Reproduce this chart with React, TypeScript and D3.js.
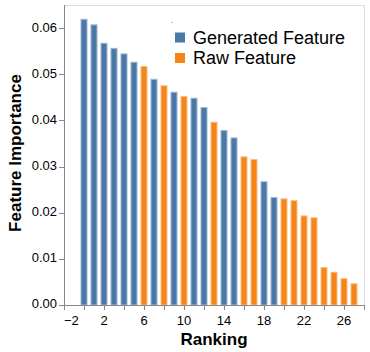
import React from "react";
import * as d3 from "d3";

const rankings = [0, 1, 2, 3, 4, 5, 6, 7, 8, 9, 10, 11, 12, 13, 14, 15, 16, 17, 18, 19, 20, 21, 22, 23, 24, 25, 26, 27];
const importances = [
  0.0619, 0.0607, 0.0567, 0.0556, 0.0544, 0.0526, 0.0517, 0.0489, 0.0475, 0.0461,
  0.0452, 0.0448, 0.0428, 0.0396, 0.0378, 0.0362, 0.0321, 0.0315, 0.0267, 0.0233,
  0.0230, 0.0226, 0.0193, 0.0189, 0.0081, 0.0071, 0.0057, 0.0046,
];
const featureTypes = [
  "Generated Feature", "Generated Feature", "Generated Feature", "Generated Feature", "Generated Feature",
  "Generated Feature", "Raw Feature", "Generated Feature", "Raw Feature", "Generated Feature",
  "Raw Feature", "Generated Feature", "Generated Feature", "Raw Feature", "Generated Feature",
  "Generated Feature", "Raw Feature", "Raw Feature", "Generated Feature", "Generated Feature",
  "Raw Feature", "Raw Feature", "Raw Feature", "Raw Feature", "Raw Feature",
  "Raw Feature", "Raw Feature", "Raw Feature",
];
const legendLabels = ["Generated Feature", "Raw Feature"];
const legendColors = ["#4c78a8", "#f58518"];
const xTicks = [-2, 0, 2, 4, 6, 8, 10, 12, 14, 16, 18, 20, 22, 24, 26, 28];
const xLabelTicks = [-2, 2, 6, 10, 14, 18, 22, 26];
const yTicks = [0, 0.01, 0.02, 0.03, 0.04, 0.05, 0.06];

const W = 370;
const H = 352;
const left = 64;
const top = 5;
const pw = 300;
const ph = 300;
const font = "'Liberation Sans', Arial, sans-serif";

export default function App() {
  const x = d3.scaleLinear().domain([-2, 28]).range([left, left + pw]);
  const y = d3.scaleLinear().domain([0, 0.065]).range([top + ph, top]);
  const color = d3.scaleOrdinal<string, string>().domain(legendLabels).range(legendColors);
  const stroke = d3.scaleOrdinal<string, string>().domain(legendLabels).range(["#9fb6d1", "#f9bd85"]);
  const barW = 6;
  const bottom = top + ph;

  return (
    <svg width={W} height={H} style={{ position: "absolute", left: 0, top: 0 }} fontFamily={font}>
      <rect x={0} y={0} width={W} height={H} fill="#fff" />
      {/* frame */}
      <rect x={left + 0.5} y={top + 0.5} width={pw} height={ph} fill="none" stroke="#ddd" />
      {/* bars */}
      {rankings.map((r, i) => (
        <rect
          key={i}
          x={x(r) - barW / 2}
          y={y(importances[i])}
          width={barW}
          height={bottom - y(importances[i])}
          fill={color(featureTypes[i])}
          stroke={stroke(featureTypes[i])}
          strokeWidth={1}
        />
      ))}
      {/* y axis */}
      <line x1={left + 0.5} x2={left + 0.5} y1={top} y2={bottom + 0.5} stroke="#888" />
      {yTicks.map((t) => (
        <g key={t}>
          <line x1={left - 5} x2={left + 0.5} y1={Math.round(y(t)) + 0.5} y2={Math.round(y(t)) + 0.5} stroke="#888" />
          <text x={left - 7} y={y(t)} textAnchor="end" dominantBaseline="middle" fontSize={13} fill="#000">
            {d3.format(".2f")(t)}
          </text>
        </g>
      ))}
      {/* x axis */}
      <line x1={left} x2={left + pw + 0.5} y1={bottom + 0.5} y2={bottom + 0.5} stroke="#888" />
      {xTicks.map((t) => (
        <line key={t} x1={Math.round(x(t)) + 0.5} x2={Math.round(x(t)) + 0.5} y1={bottom} y2={bottom + 5} stroke="#888" />
      ))}
      {xLabelTicks.map((t, i) => (
        <text
          key={t}
          x={x(t)}
          y={bottom + 20}
          textAnchor={i === 0 ? "start" : "middle"}
          fontSize={13}
          fill="#000"
        >
          {d3.format("")(t).replace("-", "\u2212")}
        </text>
      ))}
      {/* axis titles */}
      <text x={left + pw / 2} y={345} textAnchor="middle" fontSize={17} fontWeight="bold" fill="#000">
        Ranking
      </text>
      <text
        transform={`translate(20.5,${top + ph / 2 - 2}) rotate(-90)`}
        textAnchor="middle"
        fontSize={17}
        fontWeight="bold"
        fill="#000"
      >
        Feature Importance
      </text>
      {/* legend */}
      <text x={171} y={24} fontSize={6} fill="#333">-</text>
      {legendLabels.map((l, i) => (
        <g key={l} transform={`translate(175,${37.5 + i * 20.5})`}>
          <rect x={0} y={-5} width={10} height={10} fill={legendColors[i]} />
          <text x={18} y={0} dominantBaseline="central" fontSize={18} fill="#000">
            {l}
          </text>
        </g>
      ))}
    </svg>
  );
}
